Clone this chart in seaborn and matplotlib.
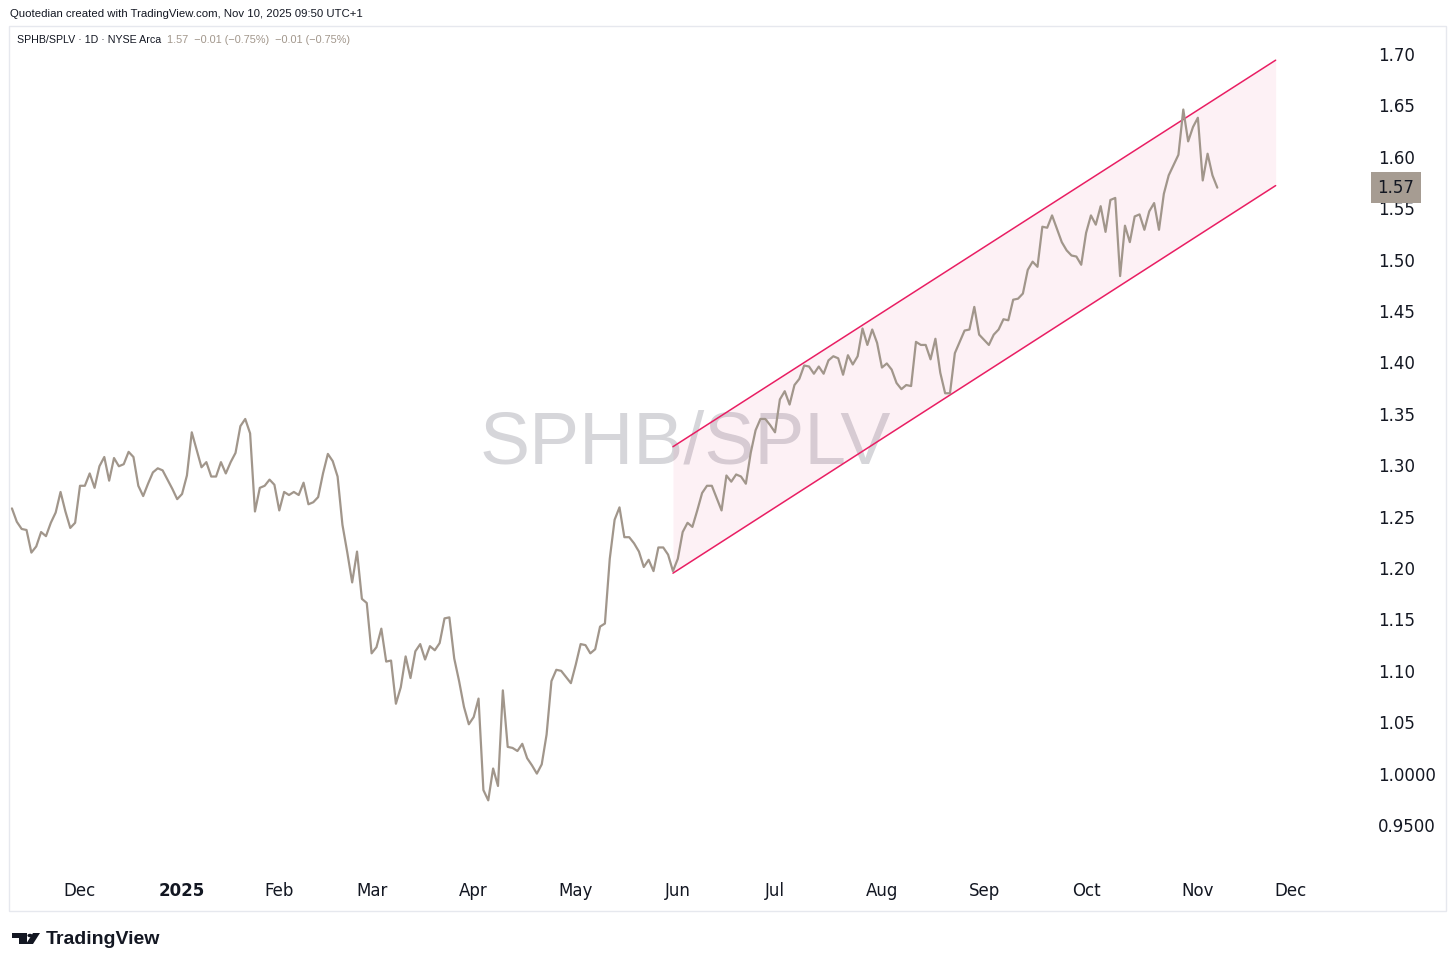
import pandas as pd
import numpy as np
import matplotlib.pyplot as plt
from matplotlib.patches import Rectangle, Polygon, Circle
import seaborn as sns

# Estilo base
sns.set_theme(style="white")
plt.rcParams['font.family'] = ['DejaVu Sans']

# Calendario de sesiones (NYSE)
holidays = ['2024-11-28', '2024-12-25', '2025-01-01', '2025-01-09', '2025-01-20',
            '2025-02-17', '2025-04-18', '2025-05-26', '2025-06-19', '2025-07-04',
            '2025-09-01', '2025-11-27', '2025-12-25']
trading_days = pd.bdate_range('2024-11-11', '2025-12-31', freq='C', holidays=holidays)

# Cierres diarios SPHB/SPLV, por mes
nov_2024 = [1.258, 1.245, 1.238, 1.237, 1.215, 1.221, 1.235, 1.231, 1.244, 1.254, 1.274, 1.255, 1.239, 1.244]
dec_2024 = [1.280, 1.280, 1.292, 1.278, 1.299, 1.308, 1.285, 1.307, 1.299, 1.301, 1.313, 1.308, 1.280, 1.270,
            1.282, 1.293, 1.297, 1.295, 1.286, 1.277, 1.267]
jan_2025 = [1.272, 1.290, 1.332, 1.315, 1.298, 1.303, 1.289, 1.289, 1.303, 1.292, 1.303, 1.312, 1.338, 1.345,
            1.331, 1.255, 1.278, 1.280, 1.286, 1.281]
feb_2025 = [1.256, 1.274, 1.271, 1.274, 1.271, 1.283, 1.262, 1.264, 1.269, 1.292, 1.311, 1.304, 1.289, 1.242,
            1.215, 1.186, 1.216, 1.170, 1.166]
mar_2025 = [1.117, 1.123, 1.141, 1.109, 1.110, 1.068, 1.084, 1.114, 1.093, 1.119, 1.126, 1.111, 1.124, 1.120,
            1.127, 1.151, 1.152, 1.112, 1.090, 1.065, 1.048]
apr_2025 = [1.055, 1.073, 0.984, 0.974, 1.005, 0.988, 1.081, 1.026, 1.025, 1.022, 1.029, 1.015, 1.008, 1.000,
            1.009, 1.038, 1.090, 1.101, 1.100, 1.094, 1.088]
may_2025 = [1.106, 1.126, 1.125, 1.117, 1.121, 1.143, 1.146, 1.209, 1.247, 1.259, 1.230, 1.230, 1.224, 1.216,
            1.201, 1.208, 1.197, 1.220, 1.220, 1.213, 1.197]
jun_2025 = [1.209, 1.235, 1.244, 1.240, 1.256, 1.273, 1.280, 1.280, 1.268, 1.256, 1.290, 1.284, 1.291, 1.289,
            1.282, 1.312, 1.334, 1.345, 1.345, 1.339]
jul_2025 = [1.332, 1.364, 1.372, 1.359, 1.378, 1.384, 1.397, 1.396, 1.389, 1.396, 1.389, 1.402, 1.406, 1.404,
            1.388, 1.407, 1.398, 1.406, 1.433, 1.417, 1.432, 1.419]
aug_2025 = [1.395, 1.399, 1.393, 1.380, 1.374, 1.378, 1.377, 1.420, 1.417, 1.417, 1.403, 1.423, 1.390, 1.370,
            1.370, 1.409, 1.420, 1.431, 1.432, 1.454, 1.427]
sep_2025 = [1.422, 1.417, 1.427, 1.432, 1.442, 1.441, 1.461, 1.462, 1.467, 1.490, 1.498, 1.493, 1.532, 1.531,
            1.543, 1.530, 1.517, 1.509, 1.504, 1.503, 1.495]
oct_2025 = [1.526, 1.543, 1.534, 1.552, 1.527, 1.558, 1.560, 1.484, 1.533, 1.517, 1.542, 1.544, 1.529, 1.547,
            1.555, 1.529, 1.564, 1.582, 1.592, 1.602, 1.646, 1.615, 1.629]
nov_2025 = [1.638, 1.577, 1.603, 1.582, 1.570]

ratio = (nov_2024 + dec_2024 + jan_2025 + feb_2025 + mar_2025 + apr_2025 + may_2025
         + jun_2025 + jul_2025 + aug_2025 + sep_2025 + oct_2025 + nov_2025)

# Canal alcista
channel_dates = ['2025-05-30', '2025-11-25']
channel_upper = [1.318, 1.694]
channel_lower = [1.195, 1.572]

# Ejes
month_labels = ['Dec', '2025', 'Feb', 'Mar', 'Apr', 'May', 'Jun', 'Jul', 'Aug', 'Sep', 'Oct', 'Nov', 'Dec']
y_ticks = [0.95, 1.00, 1.05, 1.10, 1.15, 1.20, 1.25, 1.30, 1.35, 1.40, 1.45, 1.50, 1.55, 1.60, 1.65, 1.70]
y_labels = ['0.9500', '1.0000', '1.05', '1.10', '1.15', '1.20', '1.25', '1.30', '1.35', '1.40', '1.45',
            '1.50', '1.55', '1.60', '1.65', '1.70']
last_price = '1.57'

df = pd.DataFrame({'fecha': trading_days[:len(ratio)], 'ratio': ratio})
df['pos'] = np.arange(len(df))

cal = pd.Series(np.arange(len(trading_days)), index=trading_days)
first_days = cal.groupby([cal.index.year, cal.index.month]).first()
tick_pos = first_days.loc[(2024, 12):(2025, 12)].values

ch_pos = [trading_days.get_loc(pd.Timestamp(d)) for d in channel_dates]

# Figura
W, H = 1456, 969
fig = plt.figure(figsize=(W / 100, H / 100), dpi=100)
fig.patch.set_facecolor('white')
ax = fig.add_axes([10 / W, 1 - 868 / H, 1340 / W, 840 / H])
ax.set_facecolor('white')

col_line = '#a1968b'
col_ch = '#e91e63'

ax.fill_between(ch_pos, channel_lower, channel_upper, color=col_ch, alpha=0.06, lw=0, zorder=1)
ax.plot(ch_pos, channel_upper, color=col_ch, lw=1.1, zorder=3)
ax.plot(ch_pos, channel_lower, color=col_ch, lw=1.1, zorder=3)
sns.lineplot(data=df, x='pos', y='ratio', color=col_line, linewidth=1.6, ax=ax, zorder=4)

ax.text(0.5037, 0.505, 'SPHB/SPLV', transform=ax.transAxes, ha='center', va='center',
        fontsize=54, color='#d6d6da', family='Liberation Sans', zorder=0)

ax.set_xlim(-0.4, 275.3)
ax.set_ylim(0.9082, 1.7253)
ax.set_xticks(tick_pos)
ax.set_xticklabels(month_labels)
ax.yaxis.tick_right()
ax.set_yticks(y_ticks)
ax.set_yticklabels(y_labels)
ax.tick_params(axis='x', length=0, pad=10, labelsize=12, labelcolor='#131722')
ax.tick_params(axis='y', length=0, pad=20, labelsize=12, labelcolor='#131722')
for lbl in ax.get_xticklabels():
    if lbl.get_text() == '2025':
        lbl.set_fontweight('bold')
for lbl in ax.get_yticklabels():
    lbl.set_horizontalalignment('left')
ax.set_xlabel('')
ax.set_ylabel('')
for s in ax.spines.values():
    s.set_visible(False)
ax.grid(False)

# Etiqueta del último precio
ax.text(1.0205, 1.57, last_price, transform=ax.get_yaxis_transform(), ha='left', va='center',
        fontsize=12, color='#131722', zorder=6,
        bbox=dict(boxstyle='square,pad=0.38', facecolor='#a69c92', edgecolor='none'))

# Marco
def px(x, y):
    return (x / W, 1 - y / H)

fig.patches.append(Rectangle(px(9, 911), 1437 / W, 885 / H, transform=fig.transFigure,
                             fill=False, edgecolor='#e6e8ee', lw=1))

# Cabecera
fig.text(*px(10, 14), 'Quotedian created with TradingView.com, Nov 10, 2025 09:50 UTC+1',
         ha='left', va='center', fontsize=8.2, color='#131722', family='Liberation Sans')
fig.text(*px(17, 40), 'SPHB/SPLV · 1D · NYSE Arca', ha='left', va='center', fontsize=7.7,
         color='#131722', family='Liberation Sans')
fig.text(*px(167, 40), '1.57  \u22120.01 (\u22120.75%)  \u22120.01 (\u22120.75%)', ha='left', va='center',
         fontsize=7.8, color='#a1968b', family='Liberation Sans')

# Logo TradingView
fig.patches.append(Polygon([px(12, 933), px(27, 933), px(27, 944), px(19, 944), px(19, 938), px(12, 938)],
                           closed=True, transform=fig.transFigure, facecolor='#131722', edgecolor='none'))
fig.patches.append(Circle(px(30, 935.5), 2.6 / W, transform=fig.transFigure, facecolor='#131722',
                          edgecolor='none'))
fig.patches.append(Polygon([px(33, 933), px(40, 933), px(33, 944), px(26, 944)], closed=True,
                           transform=fig.transFigure, facecolor='#131722', edgecolor='none'))
fig.text(*px(46, 939), 'TradingView', ha='left', va='center', fontsize=14, fontweight='bold',
         color='#131722', family='Liberation Sans')

fig.savefig('out.png', dpi=100)
